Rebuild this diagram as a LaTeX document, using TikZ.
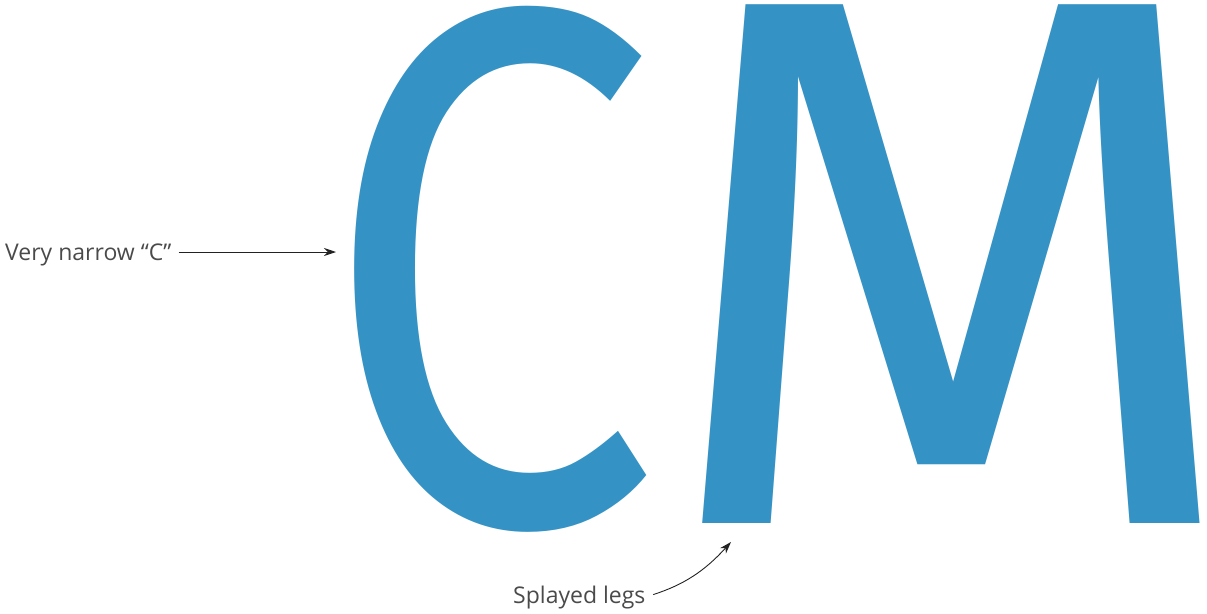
\documentclass[tikz,border=0pt]{standalone}
\usepackage{fontspec}
\setmainfont{Open Sans}
\newfontfamily\glyphfont{Fira Sans}
\usetikzlibrary{arrows.meta, positioning}
\definecolor{glyphblue}{HTML}{3592C4}
\definecolor{darkgray}{HTML}{222222}
\definecolor{labelgray}{HTML}{4A4A4A}
\tikzset{
  letter/.style={
    inner sep=0pt, text=glyphblue,
    font=\glyphfont\fontsize{753}{753}\selectfont,
  },
  callout/.style={
    inner sep=0pt, text=labelgray,
    font=\fontsize{23}{26}\selectfont,
  },
  arrow/.style={-{Stealth[length=12pt, width=8pt]}, line width=0.9pt, color=darkgray},
}

\begin{document}
\begin{tikzpicture}[x=1pt, y=-1pt]

  \useasboundingbox (0,0) rectangle (1207,613);

  \node[letter, xscale=0.80, yscale=0.98, anchor=base west] (bigC) at (321,523) {C};
  \node[letter, xscale=1.01, anchor=base west] (bigM) at (655,523) {M};

  \node[callout, anchor=base west] (narrow) at (5,260) {Very narrow “C”};
  \node[callout, anchor=base west] (legs) at (513,603) {Splayed legs};

  \coordinate (cTip) at (336,252);
  \coordinate (mTip) at (731,542);

  \draw[arrow, shorten <=7pt] (narrow.east |- cTip) -- (cTip);
  \draw[arrow, shorten <=8pt] (legs.east) to[bend right=15] (mTip);

\end{tikzpicture}
\end{document}
